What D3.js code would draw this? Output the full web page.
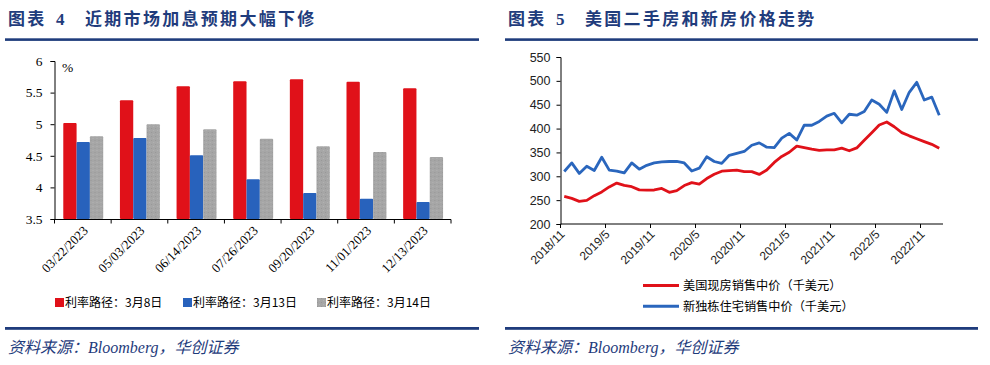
<!DOCTYPE html>
<html>
<head>
<meta charset="utf-8">
<script src="https://cdn.jsdelivr.net/npm/d3@7"></script>
<style>
  body { margin: 0; background: #fff; }
  svg { display: block; }
</style>
</head>
<body>
<svg id="chart" width="990" height="365"></svg>
<script>
// ---- left chart data: FOMC meeting dates and implied policy rate paths (%)
const rateDates = ["03/22/2023", "05/03/2023", "06/14/2023", "07/26/2023", "09/20/2023", "11/01/2023", "12/13/2023"];
const pathMar8  = [5.02, 5.38, 5.60, 5.68, 5.71, 5.67, 5.57];
const pathMar13 = [4.72, 4.78, 4.51, 4.13, 3.91, 3.82, 3.77];
const pathMar14 = [4.81, 5.00, 4.92, 4.77, 4.65, 4.56, 4.48];
const rateNames = ["利率路径：3月8日", "利率路径：3月13日", "利率路径：3月14日"];
const rateTicks = [3.5, 4, 4.5, 5, 5.5, 6];

// ---- right chart data: monthly median prices, 2018/11 - 2023/1 (thousand USD)
const existingPrice = [257.7, 253.6,
  247.5, 249.5, 259.4, 267.3, 277.7, 285.7, 280.8, 278.2, 271.5, 270.9, 271.3, 274.5,
  266.3, 270.1, 280.6, 286.8, 283.5, 295.3, 304.1, 310.6, 311.8, 313.0, 309.8, 309.8,
  303.9, 313.0, 329.1, 341.6, 350.3, 363.3, 359.9, 356.7, 354.5, 355.5, 355.5, 359.0,
  353.5, 359.5, 375.3, 391.2, 407.6, 413.8, 403.8, 391.5, 384.8, 378.8, 372.7, 366.9,
  359.0];
const newHomePrice = [310, 328,
  306, 321, 312, 340, 313, 311, 307, 328, 315, 323, 328, 330,
  331, 331, 328, 311, 317, 341, 331, 327, 344, 348, 352, 365,
  370, 361, 360, 380, 390, 376, 407, 407, 415, 426, 432, 412,
  430, 428, 436, 460, 451, 434, 479, 440, 476, 497, 460, 466,
  428];
const priceNames = ["美国现房销售中价（千美元）", "新独栋住宅销售中价（千美元）"];
const monthTicks = ["2018/11", "2019/5", "2019/11", "2020/5", "2020/11", "2021/5", "2021/11", "2022/5", "2022/11"];
const priceTicks = [200, 250, 300, 350, 400, 450, 500, 550];

const navy = "#1f3c7c";
const cjk = '"Noto Sans CJK SC", sans-serif';
const serif = '"Liberation Serif", "Noto Sans CJK SC", serif';
const sans = '"Liberation Sans", Arial, sans-serif';

const svg = d3.select("#chart");

// gray stipple for the third series
const pat = svg.append("defs").append("pattern")
    .attr("id", "stipple")
    .attr("width", 4).attr("height", 4)
    .attr("patternUnits", "userSpaceOnUse");
pat.append("rect").attr("width", 4).attr("height", 4).attr("fill", "#a6a6a6");
pat.append("rect").attr("x", 0).attr("y", 0).attr("width", 1).attr("height", 1).attr("fill", "#979797");
pat.append("rect").attr("x", 2).attr("y", 2).attr("width", 1).attr("height", 1).attr("fill", "#b3b3b3");

// ---- panel frame: title, rules, source line
function panel(x0, x1, num, title) {
  const g = svg.append("g").attr("font-weight", "bold").attr("fill", navy);
  g.append("text").attr("x", x0 + 3).attr("y", 25)
    .style("font-family", cjk).style("font-size", "17px").style("letter-spacing", "2.3px")
    .text("图表");
  g.append("text").attr("x", x0 + 51).attr("y", 25)
    .style("font-family", serif).style("font-size", "17px")
    .text(num);
  g.append("text").attr("x", x0 + 80).attr("y", 25)
    .style("font-family", cjk).style("font-size", "17px").style("letter-spacing", "2.3px")
    .text(title);

  svg.append("rect").attr("x", x0).attr("y", 38.3).attr("width", x1 - x0).attr("height", 2.6).attr("fill", navy);
  svg.append("rect").attr("x", x0).attr("y", 327).attr("width", x1 - x0).attr("height", 2.8).attr("fill", navy);

  svg.append("text").attr("x", x0 + 3).attr("y", 353)
    .attr("fill", navy)
    .style("font-family", serif).style("font-size", "16px").style("font-style", "italic")
    .text("资料来源：Bloomberg，华创证券");
}

panel(5, 479, "4", "近期市场加息预期大幅下修");
panel(505, 978, "5", "美国二手房和新房价格走势");

// ================= left: grouped bars =================
const rateSeries = [
  { name: rateNames[0], values: pathMar8,  fill: "#e01119" },
  { name: rateNames[1], values: pathMar13, fill: "#2862bc" },
  { name: rateNames[2], values: pathMar14, fill: "url(#stipple)" }
];

const xL = d3.scaleBand().domain(rateDates).range([54.5, 451]);
const xSub = d3.scaleBand().domain(rateNames)
    .range([xL.bandwidth() * 0.155, xL.bandwidth() * 0.86]);
const yL = d3.scaleLinear().domain([3.5, 6]).range([219, 61]);

const left = svg.append("g");

const groups = left.selectAll(".grp")
  .data(rateDates)
  .join("g")
    .attr("class", "grp")
    .attr("transform", d => `translate(${xL(d)},0)`);

groups.selectAll("rect")
  .data((d, i) => rateSeries.map(s => ({ name: s.name, v: s.values[i], fill: s.fill })))
  .join("rect")
    .attr("x", d => xSub(d.name))
    .attr("width", xSub.bandwidth())
    .attr("y", d => yL(d.v))
    .attr("height", d => yL(3.5) - yL(d.v))
    .attr("rx", 1)
    .attr("fill", d => d.fill);

const yAxisL = left.append("g")
    .attr("transform", "translate(54.5,0)")
    .call(d3.axisLeft(yL).tickValues(rateTicks).tickSize(4).tickPadding(8).tickFormat(d => d));
yAxisL.select(".domain").attr("stroke", "#000");
yAxisL.selectAll("text").style("font-family", serif).style("font-size", "13.5px").attr("fill", "#000");

// x axis: ticks sit on category boundaries, labels centred and slanted
const xAxisL = left.append("g").attr("transform", "translate(0,219.5)");
xAxisL.append("line").attr("x1", 54.5).attr("x2", 451).attr("stroke", "#000");
xAxisL.selectAll(".tk")
  .data(rateDates.map(d => xL(d)).concat([xL.range()[1]]))
  .join("line")
    .attr("class", "tk")
    .attr("x1", d => d).attr("x2", d => d)
    .attr("y1", 0).attr("y2", 4)
    .attr("stroke", "#000");
xAxisL.selectAll(".lbl")
  .data(rateDates)
  .join("text")
    .attr("class", "lbl")
    .attr("text-anchor", "end")
    .attr("transform", d => `translate(${xL(d) + xL.bandwidth() / 2 + 6},${12}) rotate(-45)`)
    .style("font-family", serif).style("font-size", "13px")
    .text(d => d);

left.append("text").attr("x", 62).attr("y", 72)
  .style("font-family", serif).style("font-size", "13.5px")
  .text("%");

// legend
const legL = left.selectAll(".legL")
  .data(rateSeries)
  .join("g")
    .attr("class", "legL")
    .attr("transform", (d, i) => `translate(${[55, 183, 317][i]},298)`);
legL.append("rect").attr("width", 9).attr("height", 9).attr("fill", d => d.fill);
legL.append("text").attr("x", 10).attr("y", 9)
  .style("font-family", cjk).style("font-size", "12px")
  .text(d => d.name);

// ================= right: two price lines =================
const fmtMonth = d3.timeFormat("%Y/%-m");
const months = d3.timeMonth.range(new Date(2018, 10, 1), new Date(2023, 1, 1)).map(fmtMonth);

const xR = d3.scaleBand().domain(months).range([560.5, 943]);
const yR = d3.scaleLinear().domain([200, 550]).range([224, 57]);

const right = svg.append("g");

const yAxisR = right.append("g")
    .attr("transform", "translate(560.5,0)")
    .call(d3.axisLeft(yR).tickValues(priceTicks).tickSize(4).tickPadding(6));
yAxisR.select(".domain").attr("stroke", "#000");
yAxisR.selectAll("text").style("font-family", sans).style("font-size", "12.5px").attr("fill", "#222");

const xAxisR = right.append("g").attr("transform", "translate(0,224)");
xAxisR.append("line").attr("x1", 560.5).attr("x2", 943).attr("stroke", "#000");
xAxisR.selectAll(".tk")
  .data(monthTicks)
  .join("line")
    .attr("class", "tk")
    .attr("x1", d => xR(d)).attr("x2", d => xR(d))
    .attr("y1", 0).attr("y2", 4)
    .attr("stroke", "#000");
xAxisR.selectAll(".lbl")
  .data(monthTicks)
  .join("text")
    .attr("class", "lbl")
    .attr("text-anchor", "end")
    .attr("transform", d => `translate(${xR(d) + 5},${11}) rotate(-45)`)
    .style("font-family", sans).style("font-size", "12px").attr("fill", "#222")
    .text(d => d);

const priceSeries = [
  { name: priceNames[0], values: existingPrice, stroke: "#e01119" },
  { name: priceNames[1], values: newHomePrice,  stroke: "#2a66bd" }
];

const line = d3.line()
    .x((d, i) => xR(months[i]) + xR.bandwidth() / 2)
    .y(d => yR(d));

right.selectAll(".series")
  .data(priceSeries)
  .join("path")
    .attr("class", "series")
    .attr("fill", "none")
    .attr("stroke", d => d.stroke)
    .attr("stroke-width", 2.8)
    .attr("stroke-linejoin", "round")
    .attr("d", d => line(d.values));

const legR = right.selectAll(".legR")
  .data(priceSeries)
  .join("g")
    .attr("class", "legR")
    .attr("transform", (d, i) => `translate(643,${285.5 + i * 20.7})`);
legR.append("line").attr("x1", 0).attr("x2", 36)
  .attr("stroke", d => d.stroke).attr("stroke-width", 3);
legR.append("text").attr("x", 40).attr("y", 4.5)
  .style("font-family", cjk).style("font-size", "12.2px")
  .text(d => d.name);
</script>
</body>
</html>
